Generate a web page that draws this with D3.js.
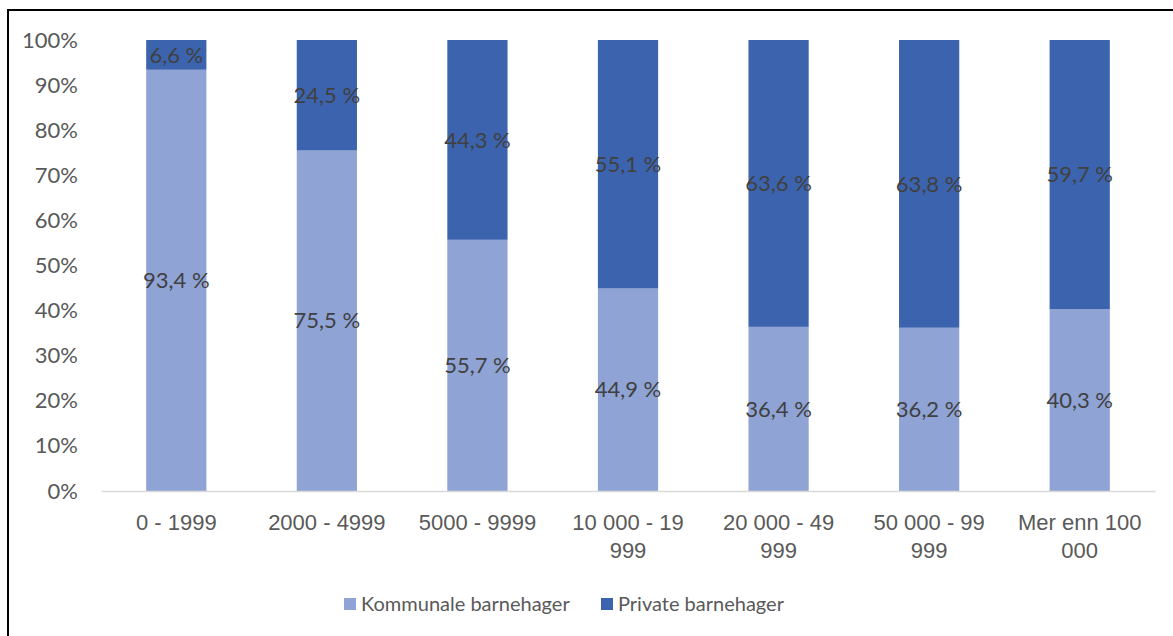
<!DOCTYPE html>
<html>
<head>
<meta charset="utf-8">
<script src="https://cdn.jsdelivr.net/npm/d3@7"></script>
<style>
  body { margin: 0; background: #fff; }
  svg { display: block; font-family: Lato, "Open Sans", sans-serif; }
</style>
</head>
<body>
<div id="chart"></div>
<script>
// kommunestørrelse (innbyggere)
var categories = ["0 - 1999", "2000 - 4999", "5000 - 9999", "10 000 - 19 999", "20 000 - 49 999", "50 000 - 99 999", "Mer enn 100 000"];
var tickLines = [["0 - 1999"], ["2000 - 4999"], ["5000 - 9999"], ["10 000 - 19", "999"], ["20 000 - 49", "999"], ["50 000 - 99", "999"], ["Mer enn 100", "000"]];
var kommunale = [93.4, 75.5, 55.7, 44.9, 36.4, 36.2, 40.3];
var privat = [6.6, 24.5, 44.3, 55.1, 63.6, 63.8, 59.7];
var seriesNames = ["Kommunale barnehager", "Private barnehager"];
var yTicks = [0, 10, 20, 30, 40, 50, 60, 70, 80, 90, 100];

var colors = ["#8FA3D5", "#3C64AE"];
var fontSize = "22px";
var W = 1173, H = 636;
var margin = {top: 40, right: 18, bottom: 145, left: 101};
var width = W - margin.left - margin.right,
    height = H - margin.top - margin.bottom;

var svg = d3.select("#chart").append("svg")
    .attr("width", W)
    .attr("height", H);

// frame round the chart (runs off the right and bottom edge)
svg.append("rect")
  .attr("x", 8).attr("y", 10)
  .attr("width", W + 20).attr("height", H + 20)
  .attr("fill", "none")
  .attr("stroke", "#000")
  .attr("stroke-width", 2);

var g = svg.append("g")
  .attr("transform", "translate(" + margin.left + "," + margin.top + ")");

var rows = categories.map(function(c, i) {
  return {cat: c, lines: tickLines[i], k: kommunale[i], p: privat[i]};
});

var x = d3.scaleBand()
  .domain(categories)
  .range([0, width])
  .paddingInner(0.6)
  .paddingOuter(0.3);

var y = d3.scaleLinear()
  .domain([0, 100])
  .range([height, 0]);

var stack = d3.stack().keys(["k", "p"]);
var layers = stack(rows);

g.selectAll("g.layer")
  .data(layers)
  .enter().append("g")
    .attr("class", "layer")
    .attr("fill", function(d, i) { return colors[i]; })
  .selectAll("rect")
  .data(function(d) { return d; })
  .enter().append("rect")
    .attr("x", function(d) { return x(d.data.cat); })
    .attr("y", function(d) { return y(Math.min(d[1], 100)); })
    .attr("width", x.bandwidth())
    .attr("height", function(d) { return y(d[0]) - y(Math.min(d[1], 100)); });

// data labels in the middle of each segment
layers.forEach(function(layer) {
  g.selectAll(null)
    .data(layer)
    .enter().append("text")
      .attr("x", function(d) { return x(d.data.cat) + x.bandwidth() / 2; })
      .attr("y", function(d) { return y((d[0] + Math.min(d[1], 100)) / 2); })
      .attr("dy", "0.35em")
      .attr("text-anchor", "middle")
      .attr("fill", "#404040")
      .style("font-size", fontSize)
      .text(function(d) { return (d[1] - d[0]).toFixed(1).replace(".", ",") + " %"; });
});

// y axis
var yAxis = g.append("g")
  .call(d3.axisLeft(y).tickValues(yTicks).tickSize(0).tickPadding(23)
    .tickFormat(function(d) { return d + "%"; }));
yAxis.select(".domain").remove();
yAxis.selectAll("text")
  .attr("fill", "#595959")
  .style("font-size", fontSize)
  .style("font-family", "Lato, 'Open Sans', sans-serif");

// x axis
var xAxis = g.append("g")
  .attr("transform", "translate(0," + height + ")")
  .call(d3.axisBottom(x).tickSize(0).tickFormat(""));
xAxis.select(".domain")
  .attr("stroke", "#D9D9D9")
  .attr("stroke-width", 1.5);
xAxis.selectAll(".tick").each(function(d, i) {
  var t = d3.select(this).append("text")
    .attr("text-anchor", "middle")
    .attr("fill", "#595959")
    .style("font-size", fontSize)
    .attr("y", 39);
  rows[i].lines.forEach(function(line, j) {
    t.append("tspan").attr("x", 0).attr("dy", j === 0 ? 0 : 28).text(line);
  });
});

// legend
var legend = svg.append("g").attr("transform", "translate(344,598)");
var legendX = [0, 257];
seriesNames.forEach(function(name, i) {
  var item = legend.append("g").attr("transform", "translate(" + legendX[i] + ",0)");
  item.append("rect").attr("width", 12).attr("height", 12).attr("fill", colors[i]);
  item.append("text")
    .attr("x", 17).attr("y", 6).attr("dy", "0.35em")
    .attr("fill", "#595959")
    .style("font-size", "20px")
    .text(name);
});
</script>
</body>
</html>
